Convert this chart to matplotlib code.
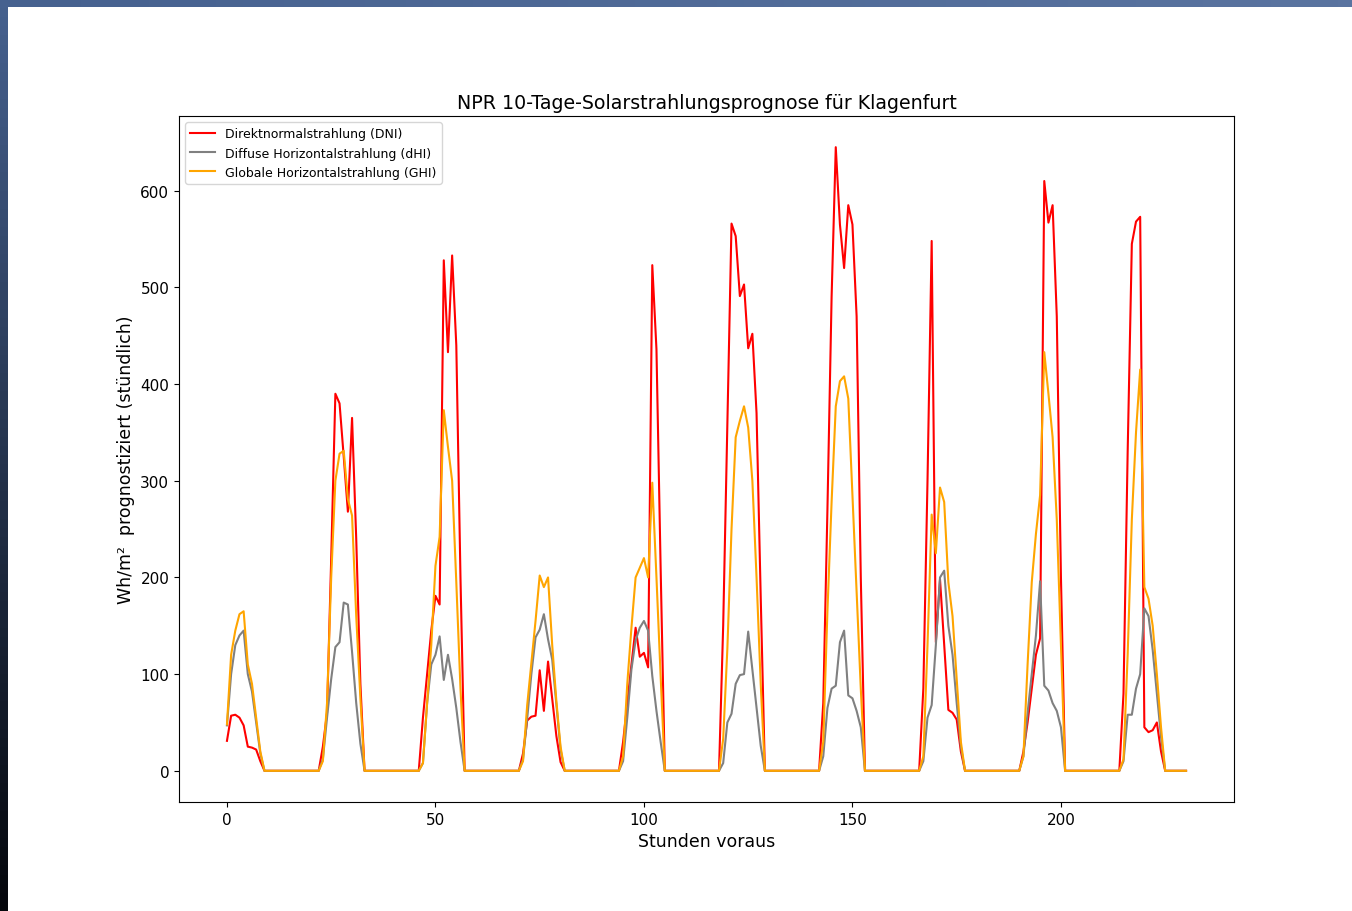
import numpy as np
import matplotlib
matplotlib.use("Agg")
import matplotlib.pyplot as plt

# hourly forecast values, one row per 24 hours (last row 15 hours)
dni = [
    31, 57, 58, 55, 47, 25, 24, 22, 10, 0, 0, 0, 0, 0, 0, 0, 0, 0, 0, 0, 0, 0, 0, 25,
    60, 220, 390, 380, 325, 268, 365, 240, 90, 0, 0, 0, 0, 0, 0, 0, 0, 0, 0, 0, 0, 0, 0, 55,
    100, 145, 181, 172, 528, 433, 533, 440, 200, 0, 0, 0, 0, 0, 0, 0, 0, 0, 0, 0, 0, 0, 0, 18,
    52, 56, 57, 104, 62, 113, 75, 36, 9, 0, 0, 0, 0, 0, 0, 0, 0, 0, 0, 0, 0, 0, 0, 30,
    70, 110, 148, 118, 122, 107, 523, 436, 210, 0, 0, 0, 0, 0, 0, 0, 0, 0, 0, 0, 0, 0, 0, 150,
    360, 566, 553, 491, 503, 437, 452, 370, 180, 0, 0, 0, 0, 0, 0, 0, 0, 0, 0, 0, 0, 0, 0, 70,
    270, 490, 645, 565, 520, 585, 565, 470, 200, 0, 0, 0, 0, 0, 0, 0, 0, 0, 0, 0, 0, 0, 0, 85,
    300, 548, 133, 198, 130, 63, 60, 53, 20, 0, 0, 0, 0, 0, 0, 0, 0, 0, 0, 0, 0, 0, 0, 20,
    50, 85, 120, 137, 610, 567, 585, 470, 200, 0, 0, 0, 0, 0, 0, 0, 0, 0, 0, 0, 0, 0, 0, 80,
    330, 545, 568, 573, 45, 40, 42, 50, 20, 0, 0, 0, 0, 0, 0,
]

dhi = [
    47, 100, 130, 140, 145, 100, 82, 50, 18, 0, 0, 0, 0, 0, 0, 0, 0, 0, 0, 0, 0, 0, 0, 12,
    55, 95, 128, 133, 174, 172, 123, 70, 28, 0, 0, 0, 0, 0, 0, 0, 0, 0, 0, 0, 0, 0, 0, 8,
    70, 110, 120, 139, 94, 120, 95, 65, 30, 0, 0, 0, 0, 0, 0, 0, 0, 0, 0, 0, 0, 0, 0, 12,
    54, 100, 138, 146, 162, 136, 115, 68, 22, 0, 0, 0, 0, 0, 0, 0, 0, 0, 0, 0, 0, 0, 0, 10,
    55, 105, 135, 148, 155, 145, 98, 62, 30, 0, 0, 0, 0, 0, 0, 0, 0, 0, 0, 0, 0, 0, 0, 8,
    50, 59, 90, 99, 100, 144, 105, 67, 26, 0, 0, 0, 0, 0, 0, 0, 0, 0, 0, 0, 0, 0, 0, 15,
    65, 85, 88, 133, 145, 78, 75, 62, 45, 0, 0, 0, 0, 0, 0, 0, 0, 0, 0, 0, 0, 0, 0, 10,
    55, 68, 130, 200, 207, 150, 120, 70, 25, 0, 0, 0, 0, 0, 0, 0, 0, 0, 0, 0, 0, 0, 0, 15,
    60, 100, 140, 196, 88, 83, 70, 62, 45, 0, 0, 0, 0, 0, 0, 0, 0, 0, 0, 0, 0, 0, 0, 10,
    58, 58, 85, 100, 168, 160, 125, 80, 35, 0, 0, 0, 0, 0, 0,
]

ghi = [
    48, 120, 145, 162, 165, 110, 90, 55, 20, 0, 0, 0, 0, 0, 0, 0, 0, 0, 0, 0, 0, 0, 0, 10,
    70, 200, 300, 328, 331, 281, 264, 160, 75, 0, 0, 0, 0, 0, 0, 0, 0, 0, 0, 0, 0, 0, 0, 8,
    70, 130, 212, 242, 373, 335, 300, 195, 85, 0, 0, 0, 0, 0, 0, 0, 0, 0, 0, 0, 0, 0, 0, 10,
    68, 112, 155, 202, 190, 200, 130, 72, 25, 0, 0, 0, 0, 0, 0, 0, 0, 0, 0, 0, 0, 0, 0, 15,
    90, 148, 200, 210, 220, 200, 298, 200, 98, 0, 0, 0, 0, 0, 0, 0, 0, 0, 0, 0, 0, 0, 0, 33,
    126, 250, 345, 362, 377, 355, 300, 200, 90, 0, 0, 0, 0, 0, 0, 0, 0, 0, 0, 0, 0, 0, 0, 30,
    165, 278, 377, 403, 408, 385, 285, 185, 85, 0, 0, 0, 0, 0, 0, 0, 0, 0, 0, 0, 0, 0, 0, 15,
    130, 265, 225, 293, 278, 195, 160, 95, 30, 0, 0, 0, 0, 0, 0, 0, 0, 0, 0, 0, 0, 0, 0, 15,
    110, 195, 245, 285, 433, 390, 345, 260, 130, 0, 0, 0, 0, 0, 0, 0, 0, 0, 0, 0, 0, 0, 0, 12,
    120, 260, 350, 415, 190, 178, 150, 100, 45, 0, 0, 0, 0, 0, 0,
]

hours = np.arange(len(dni))

fig = plt.figure(figsize=(13.52, 9.12), dpi=100)

# dark screenshot border on the left and top
edge = fig.add_axes([0, 0, 8 / 1352, 1])
edge.imshow(np.linspace(0, 1, 100).reshape(-1, 1), aspect="auto",
            cmap=matplotlib.colors.LinearSegmentedColormap.from_list("e", ["#05070c", "#46618f"]),
            origin="lower", extent=[0, 1, 0, 1])
edge.axis("off")
top = fig.add_axes([0, 904 / 912, 1, 8 / 912])
top.imshow(np.linspace(0, 1, 100).reshape(1, -1), aspect="auto",
           cmap=matplotlib.colors.LinearSegmentedColormap.from_list("t", ["#46618f", "#5a74a0"]))
top.axis("off")

ax = fig.add_axes([179 / 1352, 109 / 912, 1055 / 1352, 686 / 912])
ax.plot(hours, dni, color="red", label="Direktnormalstrahlung (DNI)")
ax.plot(hours, dhi, color="grey", label="Diffuse Horizontalstrahlung (dHI)")
ax.plot(hours, ghi, color="orange", label="Globale Horizontalstrahlung (GHI)")

ax.set_title("NPR 10-Tage-Solarstrahlungsprognose für Klagenfurt", fontsize=13.7)
ax.set_xlabel("Stunden voraus", fontsize=12.5)
ax.set_ylabel("Wh/m²  prognostiziert (stündlich)", fontsize=12.5)
ax.tick_params(labelsize=11)
ax.legend(loc="upper left", fontsize=9)

plt.savefig("out.png", dpi=100)
